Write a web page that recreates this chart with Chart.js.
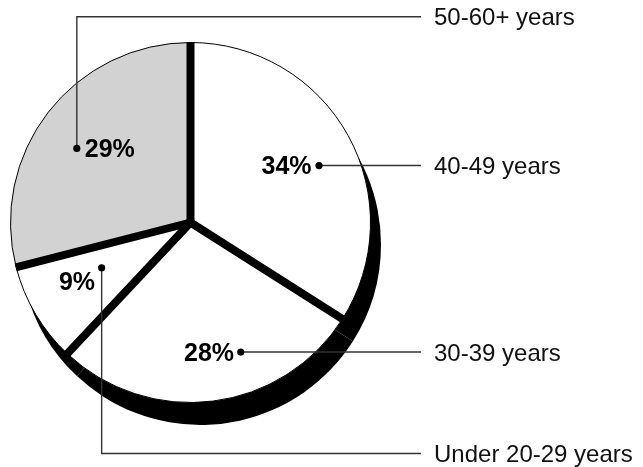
<!DOCTYPE html>
<html>
<head>
<meta charset="utf-8">
<script src="https://cdn.jsdelivr.net/npm/chart.js@4"></script>
<style>
  html, body { margin: 0; padding: 0; background: #fff; }
  canvas { display: block; }
</style>
</head>
<body>
<canvas id="c" width="643" height="467"></canvas>
<script>
// ---- data ----
const categories = ['40-49 years', '30-39 years', 'Under 20-29 years', '50-60+ years'];
const values = [34, 28, 9, 29];
const sliceColors = ['#ffffff', '#ffffff', '#ffffff', '#d2d2d2'];

// ---- annotation layout (relative to each slice) ----
const dotAngleShift = [4.9, -14, 3.6, -4.7];      // degrees from slice mid-angle
const dotRadiusFrac = [0.781, 0.772, 0.554, 0.754];
const leaderRoute = ['h', 'h', 'v', 'v'];          // horizontal, or vertical then horizontal
const leaderTurnY = [null, null, 453.5, 16.7];
const pctAlign = ['right', 'right', 'right', 'left'];
const pctDx = [-7.5, -6.7, -6.6, 8];
const pctDy = [8, 9, 22, 9];

const LEADER_END_X = 421;
const LABEL_X = 434;
const SHADOW = { dx: 10, dy: 22 };
const SEP_WIDTH = 8;

const shadowPlugin = {
  id: 'shadowAndLabels',
  beforeDatasetsDraw(chart) {
    const ctx = chart.ctx;
    const arcs = chart.getDatasetMeta(0).data;
    ctx.save();
    ctx.fillStyle = '#000';
    arcs.forEach(a => {
      const p = a.getProps(['x', 'y', 'startAngle', 'endAngle', 'outerRadius'], true);
      ctx.beginPath();
      ctx.moveTo(p.x + SHADOW.dx, p.y + SHADOW.dy);
      ctx.arc(p.x + SHADOW.dx, p.y + SHADOW.dy, p.outerRadius + 0.5, p.startAngle, p.endAngle);
      ctx.closePath();
      ctx.fill();
    });
    ctx.restore();
  },
  afterDatasetsDraw(chart) {
    const ctx = chart.ctx;
    const arcs = chart.getDatasetMeta(0).data;
    const p0 = arcs[0].getProps(['x', 'y', 'outerRadius'], true);
    // separators
    ctx.save();
    ctx.beginPath();
    ctx.arc(p0.x, p0.y, p0.outerRadius + 0.5, 0, Math.PI * 2);
    ctx.clip();
    ctx.strokeStyle = '#000';
    ctx.lineWidth = SEP_WIDTH;
    ctx.lineCap = 'round';
    arcs.forEach(a => {
      const p = a.getProps(['x', 'y', 'startAngle', 'outerRadius'], true);
      ctx.beginPath();
      ctx.moveTo(p.x, p.y);
      ctx.lineTo(p.x + Math.cos(p.startAngle) * (p.outerRadius + 10),
                 p.y + Math.sin(p.startAngle) * (p.outerRadius + 10));
      ctx.stroke();
    });
    ctx.restore();

    // leaders, dots, labels
    ctx.save();
    arcs.forEach((a, i) => {
      const p = a.getProps(['x', 'y', 'startAngle', 'endAngle', 'outerRadius'], true);
      const ang = (p.startAngle + p.endAngle) / 2 + dotAngleShift[i] * Math.PI / 180;
      const dx = p.x + Math.cos(ang) * p.outerRadius * dotRadiusFrac[i];
      const dy = p.y + Math.sin(ang) * p.outerRadius * dotRadiusFrac[i];
      let ly = dy;
      ctx.strokeStyle = '#333';
      ctx.lineWidth = 1.4;
      ctx.beginPath();
      ctx.moveTo(dx, dy);
      if (leaderRoute[i] === 'v') {
        ly = leaderTurnY[i];
        ctx.lineTo(dx, ly);
      }
      ctx.lineTo(LEADER_END_X, ly);
      ctx.stroke();

      ctx.fillStyle = '#000';
      ctx.beginPath();
      ctx.arc(dx, dy, 3.6, 0, Math.PI * 2);
      ctx.fill();

      ctx.font = 'bold 25px "Liberation Sans", Arial, Helvetica, sans-serif';
      ctx.textAlign = pctAlign[i];
      ctx.textBaseline = 'alphabetic';
      ctx.fillText(values[i] + '%', dx + pctDx[i], dy + pctDy[i]);

      ctx.font = '24px "Liberation Sans", Arial, Helvetica, sans-serif';
      ctx.textAlign = 'left';
      ctx.fillStyle = '#111';
      ctx.fillText(categories[i], LABEL_X, ly + 8.5);
    });
    ctx.restore();
  }
};

new Chart(document.getElementById('c'), {
  type: 'pie',
  data: {
    labels: categories,
    datasets: [{
      data: values,
      backgroundColor: sliceColors,
      borderColor: '#000',
      borderWidth: 1,
      hoverBorderWidth: 1,
      hoverOffset: 0,
      offset: 0
    }]
  },
  options: {
    responsive: false,
    animation: false,
    devicePixelRatio: 1,
    events: [],
    layout: { padding: { left: 10, right: 272, top: 42, bottom: 64 } },
    plugins: {
      legend: { display: false },
      tooltip: { enabled: false }
    }
  },
  plugins: [shadowPlugin]
});
</script>
</body>
</html>
